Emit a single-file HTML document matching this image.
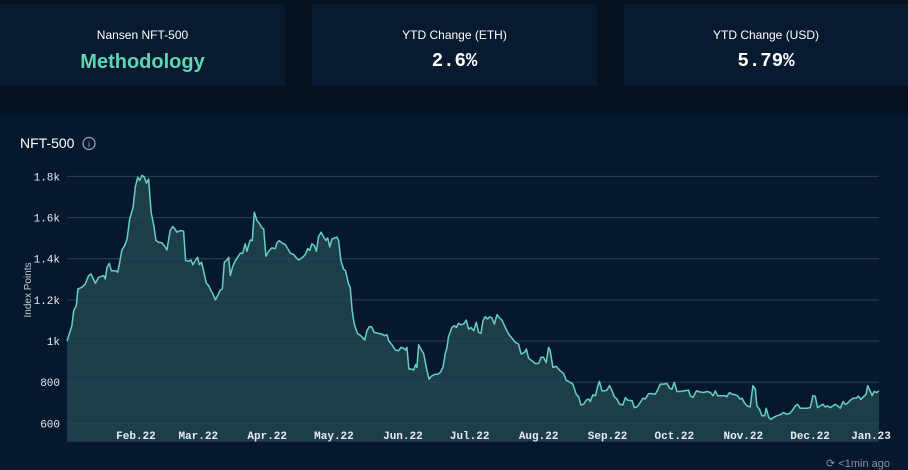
<!DOCTYPE html>
<html><head><meta charset="utf-8">
<style>
html,body{margin:0;padding:0;width:908px;height:470px;overflow:hidden;background:#06121f;font-family:"Liberation Sans",sans-serif;}
.card{position:absolute;top:4px;height:82px;background:#071a2f;text-align:center;color:#fff;}
.card .lbl{position:absolute;top:24px;left:0;right:0;font-size:12px;}
.card .val{position:absolute;top:46px;left:0;right:0;font-size:19px;font-weight:bold;font-family:"Liberation Mono",monospace;}
#panel{position:absolute;left:0;top:113px;width:908px;height:357px;background:#06182d;}
</style></head><body>
<div class="card" style="left:0;width:285px">
 <div class="lbl">Nansen NFT-500</div>
 <div class="val" style="font-family:'Liberation Sans',sans-serif;color:#5ed6b2;font-size:20px;top:47px">Methodology</div>
</div>
<div class="card" style="left:312px;width:285px">
 <div class="lbl">YTD Change (ETH)</div>
 <div class="val">2.6%</div>
</div>
<div class="card" style="left:624px;width:284px">
 <div class="lbl">YTD Change (USD)</div>
 <div class="val">5.79%</div>
</div>
<div id="panel"></div>
<svg id="chart" width="908" height="470" style="position:absolute;left:0;top:0">
 <text x="20" y="148" fill="#fff" font-size="14" font-family="Liberation Sans, sans-serif">NFT-500</text>
 <g>
  <circle cx="89" cy="143.5" r="6" fill="none" stroke="#a0a8b4" stroke-width="1.2"/>
  <text x="89" y="147.5" fill="#a0a8b4" font-size="9" text-anchor="middle" font-family="Liberation Sans, sans-serif">i</text>
 </g>
 <text transform="translate(31,290) rotate(-90)" fill="#c6ccd4" font-size="10" text-anchor="middle" font-family="Liberation Sans, sans-serif">Index Points</text>
 <text x="890" y="467" fill="#8a929c" font-size="11" text-anchor="end" font-family="Liberation Sans, sans-serif">⟳ &lt;1min ago</text>
</svg>
<script>
const days=[0,1.5,2.2,3,4.2,4.9,6.7,8.2,9.7,10.8,12.7,14.2,16.5,17.2,18,19,19.9,21.7,22.8,23.7,24.7,25.9,27,28.2,29.7,30.7,31.8,32.7,33.7,34.8,35.7,36.7,37.8,39,40,41.2,42.7,43.7,44.9,46.4,47.5,48.5,49.4,50.9,52.4,53.3,54.7,55.7,56.6,58.1,58.7,59.5,60.5,61.7,62.6,63.7,64.7,65.6,66.7,67.7,68.9,69.8,70.7,71.9,72.7,73.4,74.5,75.7,76.7,77.9,79,80.1,80.9,81.6,82.4,83.3,84.2,85.4,86.6,87.6,88.4,89.4,90.6,92.1,93.6,94.4,95.4,96.6,98.1,99.2,100.4,101.9,103.1,104.1,105.6,107.1,108.2,109.1,110.1,111.2,112.1,113.1,114.2,115.4,116.4,117.2,118.1,119.1,120.3,121.3,122.1,123.1,124.3,125.2,126.6,127.3,128.1,129.1,130.6,132.1,133.8,134.8,135.9,136.9,138.1,140.1,141.6,142.6,143.8,144.6,146.1,147.6,149.1,150.1,151.3,152.1,152.8,153.7,155.1,155.8,156.7,157.3,158.1,159.1,160.3,161.5,162.7,164,165.5,166.7,167.8,169,170,170.8,171.5,
173,174.1,175,176,177.1,178.3,179.5,180.5,181.6,182.8,184,185,186.1,187,188,189.1,190,191,192.1,193.3,194.5,195.5,197,198.5,200,201.5,203,204.1,205.6,206.5,207.5,209,210.5,212,213.1,214.2,215.4,216.5,217.2,218.4,219.9,221.7,223.2,224.4,226.2,227.4,228.9,230,231,232.2,233.4,234.5,235.2,236.4,237.5,238.5,239.3,240.5,241.5,242.7,243.9,245.1,246,247.2,248.4,249.9,251,252,254,255,256.2,257.4,258.9,259.9,261.4,262.9,264.4,265.5,266.7,268.2,269.7,270.9,271.9,273,274.2,275.7,277.2,279.4,280.2,281.4,282.9,284.4,286.2,287.7,289.2,290.4,291.4,292.5,294.4,295.9,296.6,297.8,298.9,300.4,301.4,302.6,303.4,304.4,305.6,307.1,308.3,309.4,310.1,311.3,312.4,313.6,314.3,315.4,316.4,317.6,319.1,320.6,322.1,323.3,324.8,325.9,327.4,328.4,329.6,331.1,332.6,334.1,335.3,336.3,337.4,338.6,339.8,340.8,341.8,343.1,344.3,345.3,346.4,347.6,348.8,349.8,350.8,352.1,353.6,354.8,355.8,356.8,358,359.2,359.9,361,361.9,362.8,364,365];
const values=[1000,1050,1075,1148,1172,1253,1261,1277,1318,1326,1281,1310,1318,1302,1358,1378,1342,1342,1334,1383,1443,1464,1496,1594,1650,1748,1796,1780,1805,1796,1767,1788,1626,1561,1488,1480,1477,1464,1443,1537,1556,1545,1529,1537,1534,1391,1388,1394,1371,1399,1407,1371,1383,1326,1281,1269,1245,1229,1200,1221,1248,1253,1383,1394,1407,1318,1362,1391,1407,1427,1427,1472,1436,1464,1491,1488,1626,1585,1569,1550,1545,1412,1436,1453,1449,1477,1488,1477,1469,1449,1427,1420,1404,1394,1404,1420,1449,1440,1472,1464,1436,1508,1529,1505,1488,1501,1457,1496,1501,1505,1488,1391,1350,1342,1277,1261,1156,1083,1037,1026,1005,1050,1070,1070,1042,1037,1034,1026,1031,1002,982,956,953,969,966,956,969,864,864,859,885,872,982,961,940,872,815,831,839,839,848,872,937,969,1021,
1066,1075,1066,1086,1079,1083,1102,1058,1066,1050,1091,1042,1037,1099,1118,1107,1118,1112,1083,1128,1112,1102,1066,1034,1015,994,985,937,945,961,917,904,891,891,921,921,896,969,953,872,877,856,843,810,799,791,742,729,690,693,713,718,706,739,734,778,804,758,758,762,783,755,729,718,693,690,726,713,710,677,680,697,723,718,745,745,742,762,791,791,794,771,766,799,755,755,758,762,734,726,758,753,750,755,750,734,758,734,734,734,729,750,742,739,734,718,723,702,685,680,783,766,685,669,637,637,674,629,620,629,637,642,653,645,648,661,685,693,674,674,674,677,734,732,677,685,693,680,685,677,685,693,685,674,706,693,697,713,723,723,732,716,729,742,783,758,736,755,750,758];
const yTicks=[600,800,1000,1200,1400,1600,1800];
const yTickLabels=["600","800","1k","1.2k","1.4k","1.6k","1.8k"];
const monthDays=[31,59,90,120,151,181,212,243,273,304,334,365];
const monthLabels=["Feb.22","Mar.22","Apr.22","May.22","Jun.22","Jul.22","Aug.22","Sep.22","Oct.22","Nov.22","Dec.22","Jan.23"];

const NS="http://www.w3.org/2000/svg";
const svg=document.getElementById('chart');
const X0=67,X1=879,Y0=423.4,Y1=176.4,BOTTOM=441.7;
const xs=d=>X0+(d/365)*(X1-X0);
const ys=v=>Y0+(v-600)/(1800-600)*(Y1-Y0);
function mk(tag,attrs){const e=document.createElementNS(NS,tag);for(const k in attrs)e.setAttribute(k,attrs[k]);svg.appendChild(e);return e;}

yTicks.forEach((t,i)=>{
  const g=mk('line',{x1:X0,x2:X1,y1:ys(t),y2:ys(t),stroke:'#1a3047','stroke-width':1});
  
  
  const l=mk('text',{x:60,y:ys(t)+4,fill:'#e8ecf0','font-size':11,'text-anchor':'end','font-family':'Liberation Mono, monospace'});
  l.textContent=yTickLabels[i];
  
  
});

let pts=days.map((d,i)=>xs(d).toFixed(1)+','+ys(values[i]).toFixed(1));
const area=mk('path',{d:'M'+xs(days[0])+','+BOTTOM+' L'+pts.join(' L')+' L'+xs(days[days.length-1])+','+BOTTOM+' Z',fill:'#1e3d4b'});



yTicks.forEach(t=>{
  const g=mk('line',{x1:X0,x2:X1,y1:ys(t),y2:ys(t),stroke:'#2a4d60','stroke-width':1,'stroke-opacity':0.6});
  
  
});

const line=mk('polyline',{points:pts.join(' '),fill:'none',stroke:'#66d0c2','stroke-width':1.5,'stroke-linejoin':'round'});



monthDays.forEach((d,i)=>{
  const cx=Math.min(xs(d),871);
  const l=mk('text',{x:cx,y:439,fill:'#e8ecf0','font-size':11,'text-anchor':'middle','font-family':'Liberation Mono, monospace','font-weight':'bold'});
  l.textContent=monthLabels[i];
  
  
});
</script>
</body></html>
